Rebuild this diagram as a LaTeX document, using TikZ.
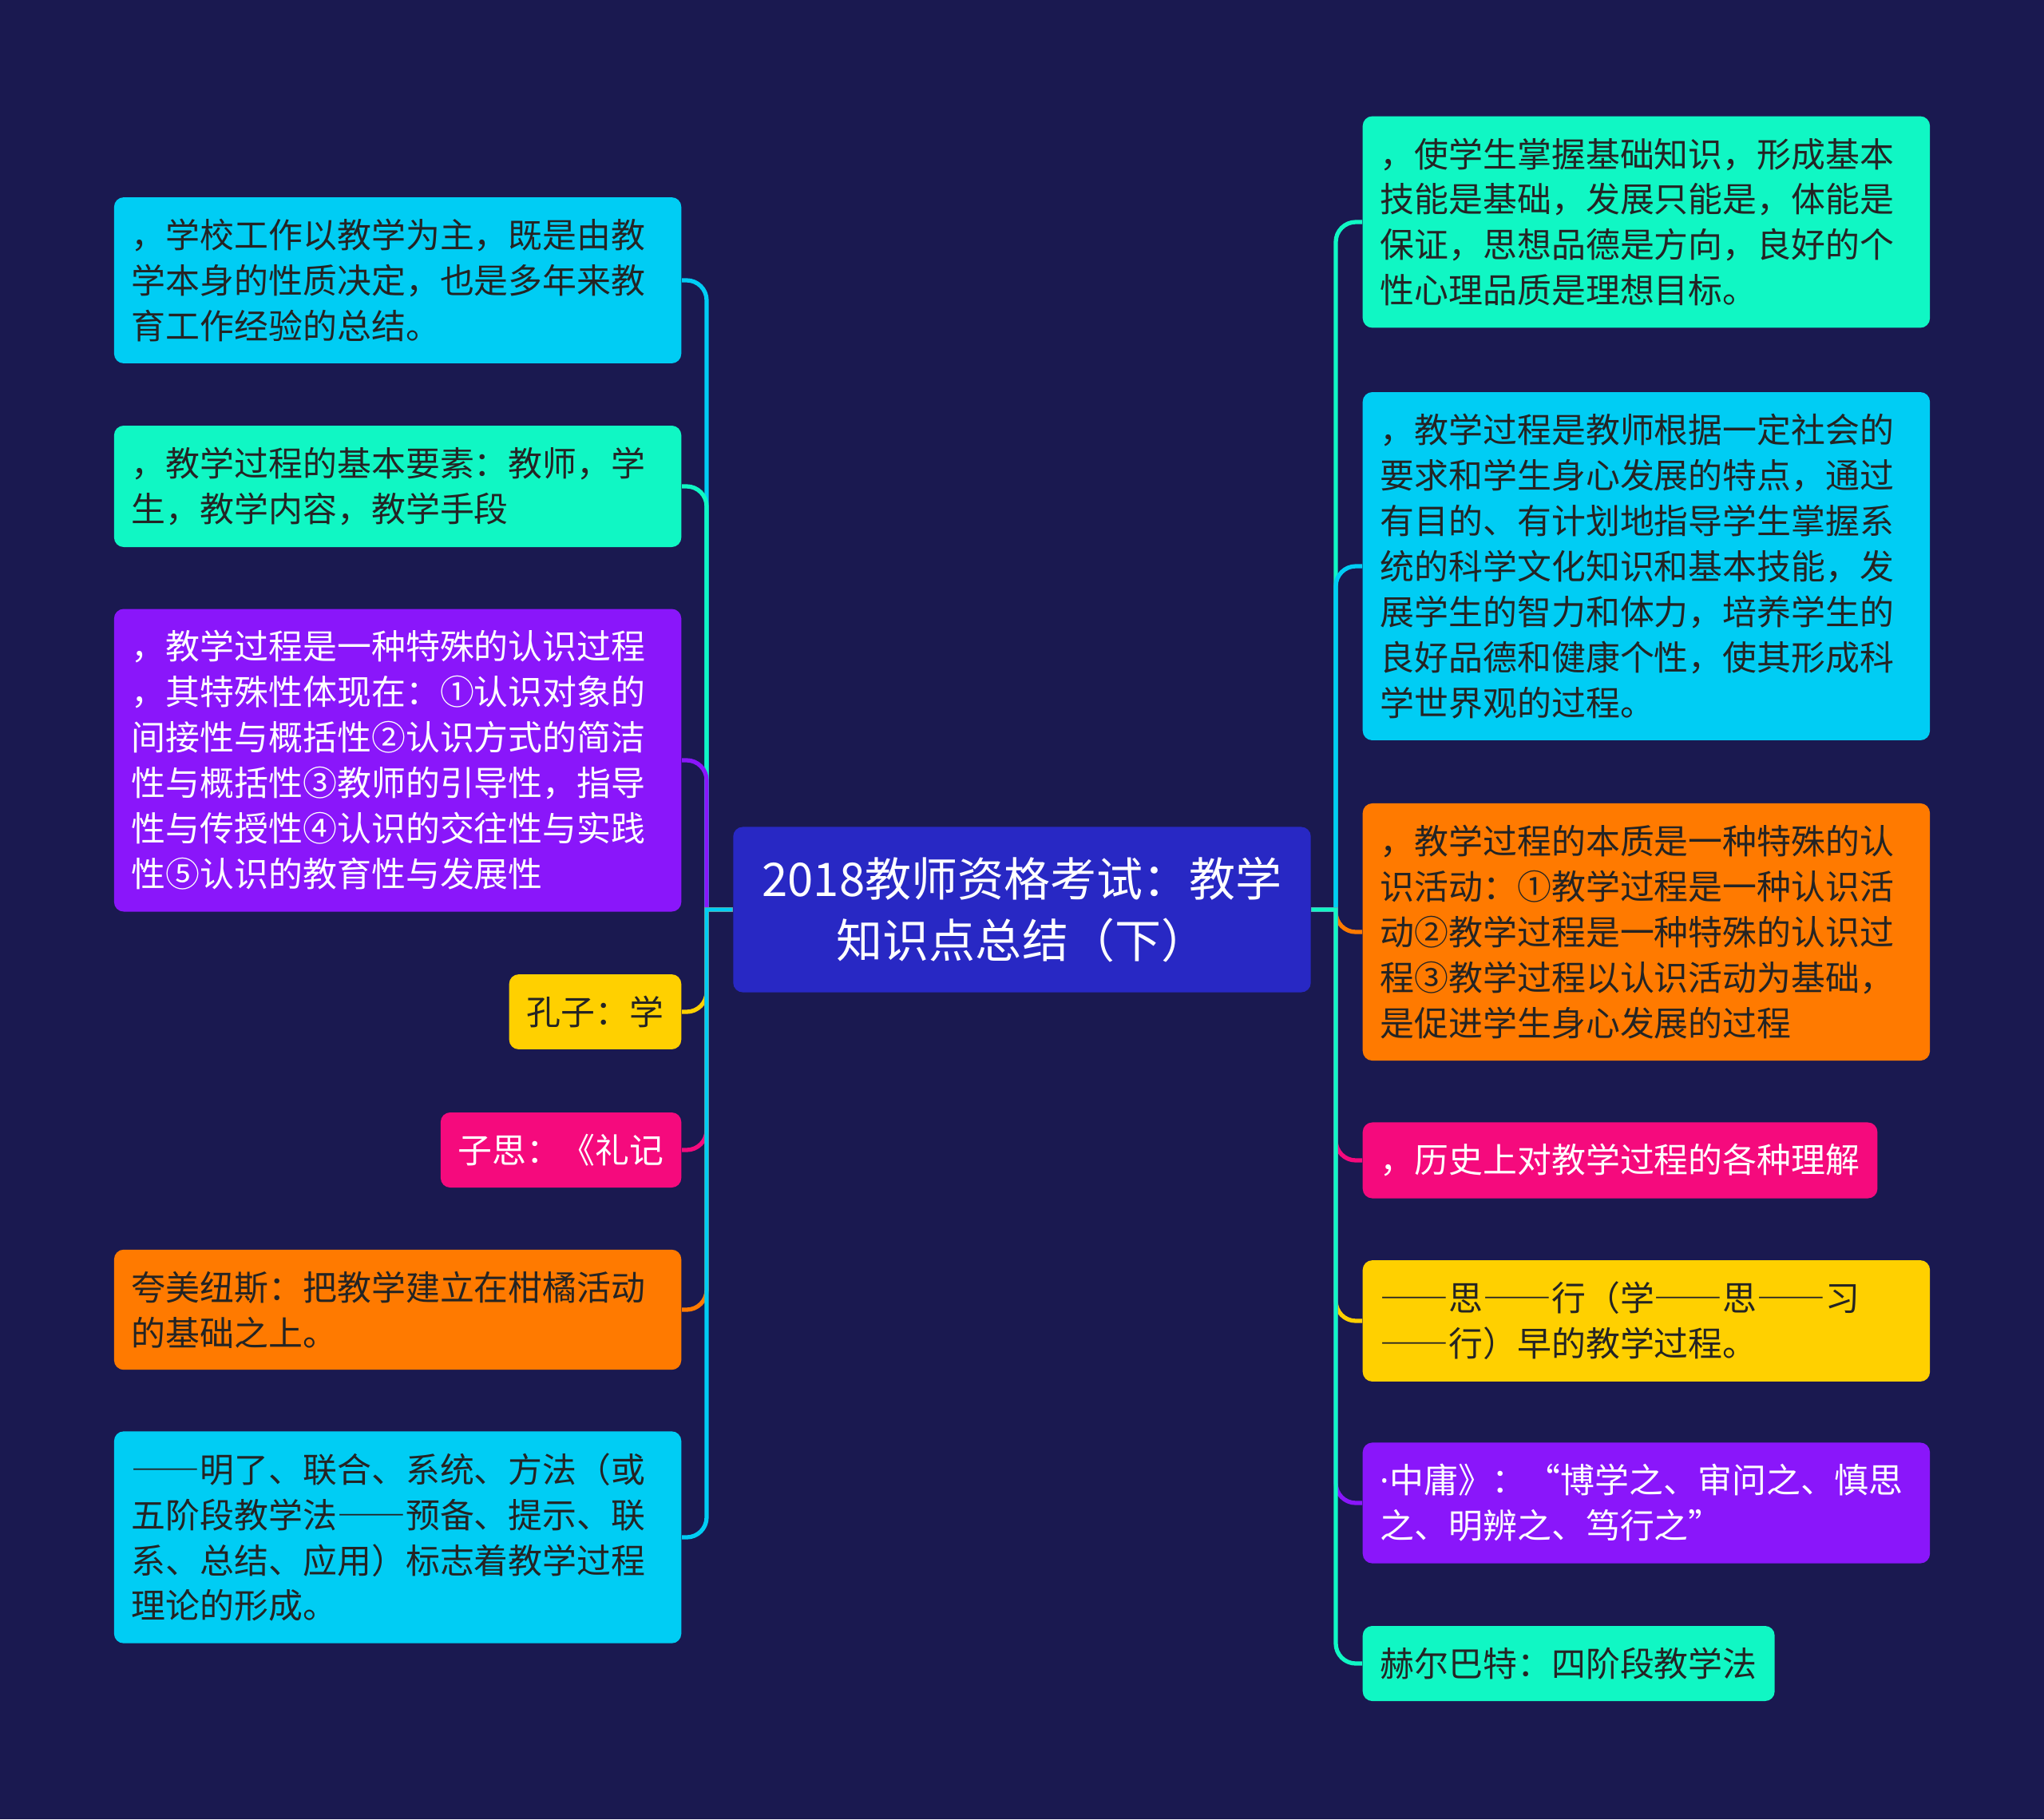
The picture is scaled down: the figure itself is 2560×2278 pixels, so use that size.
\documentclass[tikz,border=0pt]{standalone}
\usepackage{fontspec}
\setmainfont{Noto Sans CJK SC}
\newfontfamily\widefont{Noto Sans CJK SC}[RawFeature=+fwid]
\newfontfamily\latinfont{Noto Sans}
\newcommand\ldash{{\widefont ——}}
\usepackage{tikz}
\usetikzlibrary{positioning}
\definecolor{navy}{RGB}{26,25,80}
\definecolor{cyanc}{RGB}{0,205,244}
\definecolor{greenc}{RGB}{16,247,196}
\definecolor{purplec}{RGB}{138,22,250}
\definecolor{orangec}{RGB}{255,122,0}
\definecolor{yellowc}{RGB}{255,208,0}
\definecolor{pinkc}{RGB}{245,10,125}
\definecolor{rootc}{RGB}{40,40,196}
\definecolor{ink}{RGB}{36,36,36}
\tikzset{
  title/.style={rectangle, rounded corners=0.12cm, fill=rootc, text=white, minimum width=7.23cm, minimum height=2.07cm, align=center, font=\fontsize{16.5pt}{21.8pt}\selectfont},
  leaf/.style={rectangle, rounded corners=0.12cm, inner xsep=0.22cm, inner ysep=0.27cm, align=left, font=\fontsize{12.2pt}{16.2pt}\selectfont},
  wide/.style={leaf, text width=6.66cm},
  link/.style={line width=1.5pt}
}

\begin{document}
\begin{tikzpicture}[x=0.01cm, y=-0.01cm]
    \fill[navy] (0,0) rectangle (2560,2278);

    \node[title] (root) at (1280,1139) {2018教师资格考试：教学\\知识点总结（下）};
    \coordinate (lhub) at (885,1139);
    \coordinate (rhub) at (1673,1139);

    % left side
    \node[wide, fill=cyanc, text=ink, anchor=east] (lschool) at (854,351) {，学校工作以教学为主，既是由教\\学本身的性质决定，也是多年来教\\育工作经验的总结。};
    \node[wide, fill=greenc, text=ink, anchor=east] (lelements) at (854,609) {，教学过程的基本要素：教师，学\\生，教学内容，教学手段};
    \node[wide, fill=purplec, text=white, anchor=east] (lcognition) at (854,952) {，教学过程是一种特殊的认识过程\\，其特殊性体现在：①认识对象的\\间接性与概括性②认识方式的简洁\\性与概括性③教师的引导性，指导\\性与传授性④认识的交往性与实践\\性⑤认识的教育性与发展性};
    \node[leaf, fill=yellowc, text=ink, anchor=east] (lkongzi) at (854,1267) {孔子：学};
    \node[leaf, fill=pinkc, text=white, anchor=east] (lzisi) at (854,1440) {子思：《礼记};
    \node[wide, fill=orangec, text=ink, anchor=east] (lcomenius) at (854,1640) {夸美纽斯：把教学建立在柑橘活动\\的基础之上。};
    \node[wide, fill=cyanc, text=ink, anchor=east] (lfive) at (854,1925) {\ldash 明了、联合、系统、方法（或\\五阶段教学法\ldash 预备、提示、联\\系、总结、应用）标志着教学过程\\理论的形成。};

    % right side
    \node[wide, fill=greenc, text=ink, anchor=west] (rgoal) at (1706,278) {，使学生掌握基础知识，形成基本\\技能是基础，发展只能是，体能是\\保证，思想品德是方向，良好的个\\性心理品质是理想目标。};
    \node[wide, fill=cyanc, text=ink, anchor=west] (rdefine) at (1706,709) {，教学过程是教师根据一定社会的\\要求和学生身心发展的特点，通过\\有目的、有计划地指导学生掌握系\\统的科学文化知识和基本技能，发\\展学生的智力和体力，培养学生的\\良好品德和健康个性，使其形成科\\学世界观的过程。};
    \node[wide, fill=orangec, text=ink, anchor=west] (ressence) at (1706,1167) {，教学过程的本质是一种特殊的认\\识活动：①教学过程是一种认识活\\动②教学过程是一种特殊的认识过\\程③教学过程以认识活动为基础，\\是促进学生身心发展的过程};
    \node[leaf, fill=pinkc, text=white, anchor=west] (rhistory) at (1706,1453) {，历史上对教学过程的各种理解};
    \node[wide, fill=yellowc, text=ink, anchor=west] (rthink) at (1706,1654) {\ldash 思\ldash 行（学\ldash 思\ldash 习\\\ldash 行）早的教学过程。};
    \node[wide, fill=purplec, text=white, anchor=west] (rzhongyong) at (1706,1882) {{\latinfont ·}中庸》：“博学之、审问之、慎思\\之、明辨之、笃行之”};
    \node[leaf, fill=greenc, text=ink, anchor=west] (rfour) at (1706,2083) {赫尔巴特：四阶段教学法};

    % connectors, outer ones first so inner ones stay on top
    \draw[link, cyanc] (root.west) -- (lhub) [rounded corners=0.25cm] |- (lschool.east);
    \draw[link, greenc] (root.west) -- (lhub) [rounded corners=0.25cm] |- (lelements.east);
    \draw[link, purplec] (root.west) -- (lhub) [rounded corners=0.25cm] |- (lcognition.east);
    \draw[link, yellowc] (root.west) -- (lhub) [rounded corners=0.25cm] |- (lkongzi.east);
    \draw[link, pinkc] (root.west) -- (lhub) [rounded corners=0.25cm] |- (lzisi.east);
    \draw[link, orangec] (root.west) -- (lhub) [rounded corners=0.25cm] |- (lcomenius.east);
    \draw[link, cyanc] (root.west) -- (lhub) [rounded corners=0.25cm] |- (lfive.east);

    \draw[link, greenc] (root.east) -- (rhub) [rounded corners=0.25cm] |- (rgoal.west);
    \draw[link, cyanc] (root.east) -- (rhub) [rounded corners=0.25cm] |- (rdefine.west);
    \draw[link, orangec] (root.east) -- (rhub) [rounded corners=0.25cm] |- (ressence.west);
    \draw[link, pinkc] (root.east) -- (rhub) [rounded corners=0.25cm] |- (rhistory.west);
    \draw[link, yellowc] (root.east) -- (rhub) [rounded corners=0.25cm] |- (rthink.west);
    \draw[link, purplec] (root.east) -- (rhub) [rounded corners=0.25cm] |- (rzhongyong.west);
    \draw[link, greenc] (root.east) -- (rhub) [rounded corners=0.25cm] |- (rfour.west);
\end{tikzpicture}
\end{document}
